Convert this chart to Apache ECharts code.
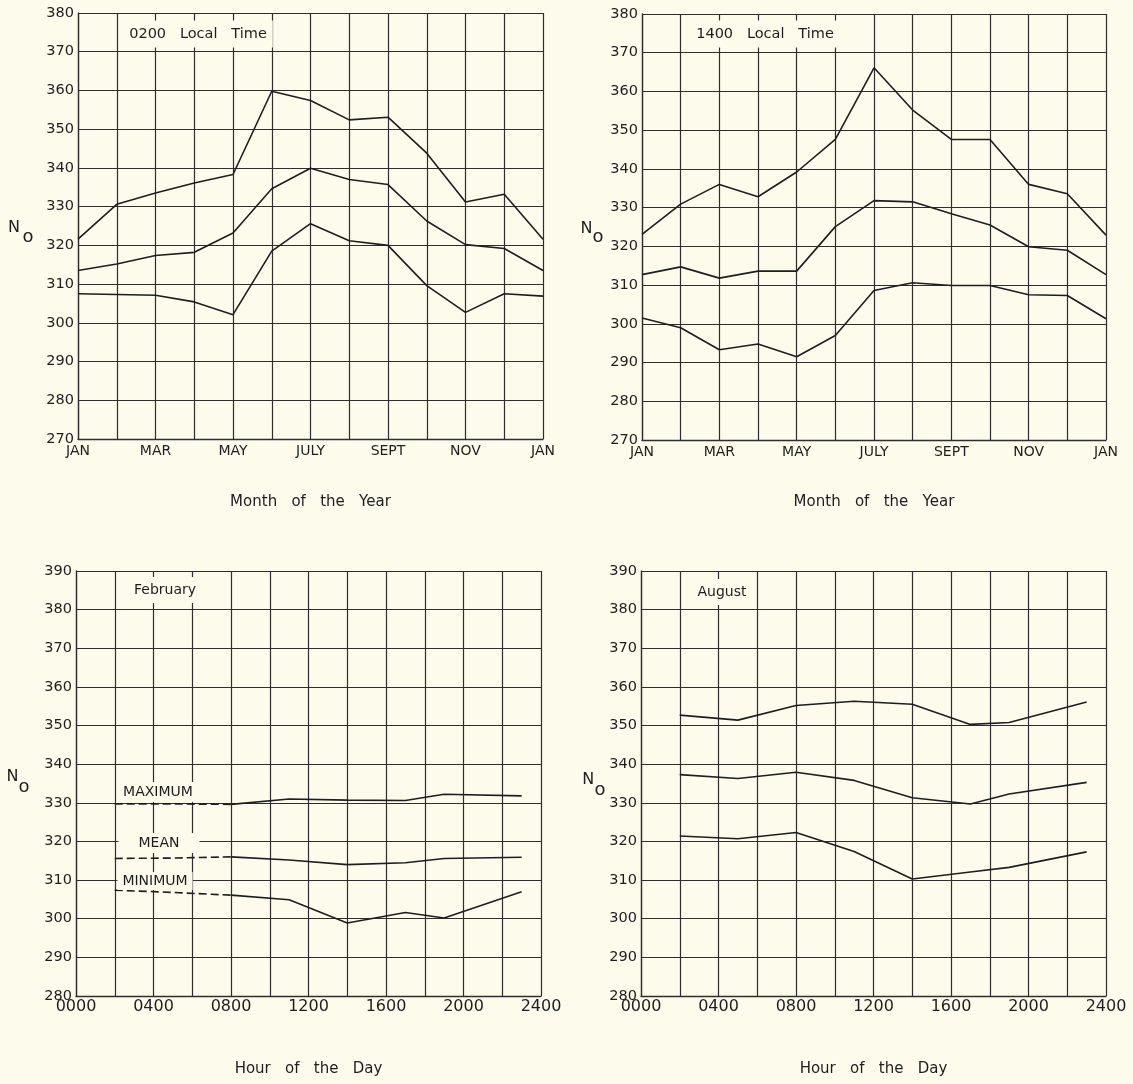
<!DOCTYPE html>
<html>
<head>
<meta charset="utf-8">
<script src="https://cdn.jsdelivr.net/npm/echarts@6/dist/echarts.min.js"></script>
<style>
  html, body { margin: 0; padding: 0; background: #fcfbec; }
  #chart { width: 1133px; height: 1084px; }
</style>
</head>
<body>
<div id="chart"></div>
<script>
// ---------- data ----------
const months = ['JAN','FEB','MAR','APR','MAY','JUNE','JULY','AUG','SEPT','OCT','NOV','DEC','JAN'];
const monthTicks = ['JAN','','MAR','','MAY','','JULY','','SEPT','','NOV','','JAN'];
const hourTicks = ['0000','','0400','','0800','','1200','','1600','','2000','','2400'];
const hours = [2, 5, 8, 11, 14, 17, 19, 23];

const t0200Max  = [321.6,330.6,333.5,336.1,338.3,359.8,357.4,352.4,353.1,343.8,331.2,333.2,321.6];
const t0200Mean = [313.5,315.2,317.4,318.2,323.2,334.6,339.9,337.0,335.7,326.3,320.2,319.2,313.5];
const t0200Min  = [307.5,307.3,307.1,305.4,302.1,318.5,325.6,321.2,320.0,309.6,302.7,307.5,306.9];

const t1400Max  = [323.1,330.9,336.0,332.8,339.2,347.6,366.1,355.2,347.6,347.6,336.0,333.6,322.9];
const t1400Mean = [312.7,314.7,311.8,313.6,313.6,325.1,331.8,331.5,328.4,325.5,319.9,319.0,312.7];
const t1400Min  = [301.5,299.0,293.3,294.8,291.5,297.0,308.6,310.6,309.9,309.9,307.5,307.3,301.3];

const febMax  = [329.7,329.7,329.6,331.0,330.7,330.6,332.2,331.8];
const febMean = [315.6,315.7,316.0,315.2,314.0,314.5,315.6,315.9];
const febMin  = [307.4,306.8,306.1,304.9,298.9,301.6,300.2,307.0];
const febDashedPoints = 3; // first three readings drawn dashed

const augMax  = [352.7,351.4,355.2,356.3,355.5,350.3,350.8,356.1];
const augMean = [337.3,336.3,337.9,335.8,331.3,329.7,332.3,335.3];
const augMin  = [321.4,320.7,322.3,317.4,310.3,312.1,313.3,317.3];

// ---------- styling ----------
const BG = '#fcfbec';
const INK = '#1e1e1e';
const GRIDC = '#2e2e2e';
const FONT = 'DejaVu Sans';

const grids = [
  { left: 78,  top: 13,  width: 465, height: 426 },
  { left: 642, top: 14,  width: 464, height: 426 },
  { left: 76,  top: 571, width: 465, height: 425 },
  { left: 641, top: 571, width: 465, height: 425 }
];

function lineStyleAxis() {
  return {
    axisLine: { show: true, lineStyle: { color: GRIDC, width: 1.3 } },
    axisTick: { show: false },
    splitLine: { show: true, lineStyle: { color: GRIDC, width: 1.2 } }
  };
}

function monthX(i) {
  return Object.assign({
    type: 'value', gridIndex: i, min: 0, max: 12, interval: 1,
    axisLabel: {
      margin: 5, color: INK, fontFamily: FONT, fontSize: 14,
      showMinLabel: true, showMaxLabel: true,
      formatter: v => monthTicks[Math.round(v)] || ''
    }
  }, lineStyleAxis());
}
function hourX(i) {
  return Object.assign({
    type: 'value', gridIndex: i, min: 0, max: 24, interval: 2,
    axisLabel: {
      margin: 3, color: INK, fontFamily: FONT, fontSize: 16,
      showMinLabel: true, showMaxLabel: true,
      formatter: v => hourTicks[Math.round(v / 2)] || ''
    }
  }, lineStyleAxis());
}
function yAx(i, min, max) {
  return Object.assign({
    type: 'value', gridIndex: i, min: min, max: max, interval: 10,
    axisLabel: {
      margin: 4, color: INK, fontFamily: FONT, fontSize: 14.5,
      showMinLabel: true, showMaxLabel: true
    }
  }, lineStyleAxis());
}

function pairs(xs, ys) { return ys.map((y, k) => [xs[k], y]); }
const monthPos = months.map((m, k) => k);

function line(idx, data, dashed) {
  return {
    type: 'line', xAxisIndex: idx, yAxisIndex: idx, data: data,
    symbol: 'none', silent: true, z: 3,
    lineStyle: { color: INK, width: 1.6, type: dashed ? [8, 4] : 'solid' }
  };
}

const series = [
  line(0, pairs(monthPos, t0200Max)),
  line(0, pairs(monthPos, t0200Mean)),
  line(0, pairs(monthPos, t0200Min)),
  line(1, pairs(monthPos, t1400Max)),
  line(1, pairs(monthPos, t1400Mean)),
  line(1, pairs(monthPos, t1400Min)),
  line(3, pairs(hours, augMax)),
  line(3, pairs(hours, augMean)),
  line(3, pairs(hours, augMin))
];
[febMax, febMean, febMin].forEach(arr => {
  const all = pairs(hours, arr);
  series.push(line(2, all.slice(0, febDashedPoints), true));
  series.push(line(2, all.slice(febDashedPoints - 1), false));
});

function txt(text, x, y, size, opts) {
  return Object.assign({
    type: 'text', z: 100, silent: true,
    style: Object.assign({
      text: text, x: x, y: y, fill: INK,
      font: size + 'px "' + FONT + '"',
      textAlign: 'center', textVerticalAlign: 'middle'
    }, (opts && opts.style) || {})
  }, {});
}
function boxed(text, x, y, size, pad) {
  const t = txt(text, x, y, size);
  t.style.backgroundColor = BG;
  t.style.padding = pad;
  return t;
}

const graphic = [
  // panel titles
  boxed('0200   Local   Time', 198, 34, 14.5, [6, 6]),
  boxed('1400   Local   Time', 765, 34, 14.5, [6, 6]),
  boxed('February', 165, 590, 14, [6, 6]),
  boxed('August', 722, 592, 14, [6, 6]),
  // curve labels (February)
  boxed('MAXIMUM', 158, 792, 14, [3, 4]),
  boxed('MEAN', 159, 843, 14, [3, 20]),
  boxed('MINIMUM', 155, 881, 14, [2, 5]),
  // y axis names  N with subscript o
  txt('N', 14, 227.5, 16), txt('o', 28, 237, 18),
  txt('N', 586.5, 228.5, 16), txt('o', 598, 237.5, 18),
  txt('N', 12.5, 777, 16), txt('o', 24, 787, 18),
  txt('N', 588.3, 780, 16), txt('o', 600, 790, 18),
  // x axis titles
  txt('Month   of   the   Year', 310.5, 502, 15),
  txt('Month   of   the   Year', 874, 502, 15),
  txt('Hour   of   the   Day', 308.5, 1069, 15),
  txt('Hour   of   the   Day', 873.5, 1069, 15)
];

const chart = echarts.init(document.getElementById('chart'), null, { renderer: 'canvas' });
chart.setOption({
  backgroundColor: BG,
  animation: false,
  grid: grids.map(g => Object.assign({ containLabel: false }, g)),
  xAxis: [monthX(0), monthX(1), hourX(2), hourX(3)],
  yAxis: [yAx(0, 270, 380), yAx(1, 270, 380), yAx(2, 280, 390), yAx(3, 280, 390)],
  series: series,
  graphic: graphic
});
</script>
</body>
</html>
